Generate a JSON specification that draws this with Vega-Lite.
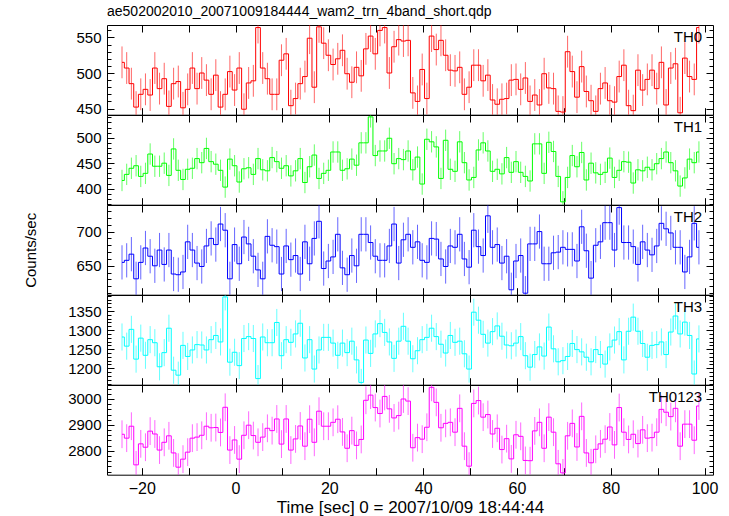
{
"$schema": "https://vega.github.io/schema/vega-lite/v6.json",
"padding": {"left": 23, "top": 4, "right": 0, "bottom": 0},
"background": "white",
"spacing": 0,
"bounds": "flush",
"data": {"values": [
{"t":-24.2,"a":515,"b":416,"c":655,"d":1282,"s":2864,"ea":22.4,"eb":21,"ec":25,"ed":35.5,"es":53.6},
{"t":-23.2,"a":507,"b":428,"c":658,"d":1258,"s":2849,"ea":22.4,"eb":21,"ec":25,"ed":35.5,"es":53.6},
{"t":-22.2,"a":485,"b":440,"c":667,"d":1302,"s":2895,"ea":22.4,"eb":21,"ec":25,"ed":35.5,"es":53.6},
{"t":-21.2,"a":452,"b":445,"c":631,"d":1224,"s":2746,"ea":22.4,"eb":21,"ec":25,"ed":35.5,"es":53.6},
{"t":-20.2,"a":470,"b":424,"c":655,"d":1279,"s":2827,"ea":22.4,"eb":21,"ec":25,"ed":35.5,"es":53.6},
{"t":-19.2,"a":477,"b":430,"c":676,"d":1234,"s":2814,"ea":22.4,"eb":21,"ec":25,"ed":35.5,"es":53.6},
{"t":-18.2,"a":469,"b":468,"c":664,"d":1275,"s":2876,"ea":22.4,"eb":21,"ec":25,"ed":35.5,"es":53.6},
{"t":-17.2,"a":507,"b":444,"c":650,"d":1267,"s":2865,"ea":22.4,"eb":21,"ec":25,"ed":35.5,"es":53.6},
{"t":-16.2,"a":478,"b":444,"c":673,"d":1204,"s":2803,"ea":22.4,"eb":21,"ec":25,"ed":35.5,"es":53.6},
{"t":-15.2,"a":492,"b":450,"c":652,"d":1241,"s":2833,"ea":22.4,"eb":21,"ec":25,"ed":35.5,"es":53.6},
{"t":-14.2,"a":453,"b":426,"c":673,"d":1305,"s":2858,"ea":22.4,"eb":21,"ec":25,"ed":35.5,"es":53.6},
{"t":-13.2,"a":485,"b":478,"c":638,"d":1195,"s":2792,"ea":22.4,"eb":21,"ec":25,"ed":35.5,"es":53.6},
{"t":-12.2,"a":488,"b":436,"c":637,"d":1182,"s":2737,"ea":22.4,"eb":21,"ec":25,"ed":35.5,"es":53.6},
{"t":-11.2,"a":451,"b":418,"c":641,"d":1260,"s":2768,"ea":22.4,"eb":21,"ec":25,"ed":35.5,"es":53.6},
{"t":-10.2,"a":477,"b":438,"c":685,"d":1231,"s":2795,"ea":22.4,"eb":21,"ec":25,"ed":35.5,"es":53.6},
{"t":-9.2,"a":507,"b":440,"c":673,"d":1248,"s":2849,"ea":22.4,"eb":21,"ec":25,"ed":35.5,"es":53.6},
{"t":-8.2,"a":478,"b":459,"c":654,"d":1262,"s":2853,"ea":22.4,"eb":21,"ec":25,"ed":35.5,"es":53.6},
{"t":-7.2,"a":500,"b":451,"c":649,"d":1261,"s":2860,"ea":22.4,"eb":21,"ec":25,"ed":35.5,"es":53.6},
{"t":-6.2,"a":490,"b":479,"c":679,"d":1248,"s":2895,"ea":22.4,"eb":21,"ec":25,"ed":35.5,"es":53.6},
{"t":-5.2,"a":470,"b":453,"c":690,"d":1275,"s":2889,"ea":22.4,"eb":21,"ec":25,"ed":35.5,"es":53.6},
{"t":-4.2,"a":497,"b":448,"c":681,"d":1286,"s":2890,"ea":22.4,"eb":21,"ec":25,"ed":35.5,"es":53.6},
{"t":-3.2,"a":452,"b":436,"c":711,"d":1269,"s":2871,"ea":22.4,"eb":21,"ec":25,"ed":35.5,"es":53.6},
{"t":-2.2,"a":470,"b":403,"c":702,"d":1387,"s":2968,"ea":22.4,"eb":21,"ec":25,"ed":35.5,"es":53.6},
{"t":-1.2,"a":502,"b":458,"c":631,"d":1216,"s":2803,"ea":22.4,"eb":21,"ec":25,"ed":35.5,"es":53.6},
{"t":-0.2,"a":476,"b":445,"c":681,"d":1242,"s":2842,"ea":22.4,"eb":21,"ec":25,"ed":35.5,"es":53.6},
{"t":0.8,"a":507,"b":413,"c":653,"d":1207,"s":2768,"ea":22.4,"eb":21,"ec":25,"ed":35.5,"es":53.6},
{"t":1.8,"a":449,"b":439,"c":692,"d":1278,"s":2860,"ea":22.4,"eb":21,"ec":25,"ed":35.5,"es":53.6},
{"t":2.8,"a":486,"b":441,"c":682,"d":1283,"s":2899,"ea":22.4,"eb":21,"ec":25,"ed":35.5,"es":53.6},
{"t":3.8,"a":489,"b":428,"c":664,"d":1278,"s":2859,"ea":22.4,"eb":21,"ec":25,"ed":35.5,"es":53.6},
{"t":4.8,"a":564,"b":459,"c":644,"d":1173,"s":2833,"ea":22.4,"eb":21,"ec":25,"ed":35.5,"es":53.6},
{"t":5.8,"a":507,"b":437,"c":631,"d":1282,"s":2853,"ea":22.4,"eb":21,"ec":25,"ed":35.5,"es":53.6},
{"t":6.8,"a":492,"b":435,"c":693,"d":1267,"s":2887,"ea":22.4,"eb":21,"ec":25,"ed":35.5,"es":53.6},
{"t":7.8,"a":470,"b":461,"c":680,"d":1267,"s":2878,"ea":22.4,"eb":21,"ec":25,"ed":35.5,"es":53.6},
{"t":8.8,"a":470,"b":453,"c":678,"d":1320,"s":2923,"ea":22.4,"eb":21,"ec":25,"ed":35.5,"es":53.6},
{"t":9.8,"a":518,"b":440,"c":638,"d":1233,"s":2826,"ea":22.4,"eb":21,"ec":25,"ed":35.5,"es":53.6},
{"t":10.8,"a":527,"b":445,"c":679,"d":1275,"s":2923,"ea":22.4,"eb":21,"ec":25,"ed":35.5,"es":53.6},
{"t":11.8,"a":454,"b":425,"c":659,"d":1268,"s":2803,"ea":22.4,"eb":21,"ec":25,"ed":35.5,"es":53.6},
{"t":12.8,"a":464,"b":435,"c":665,"d":1290,"s":2846,"ea":22.4,"eb":21,"ec":25,"ed":35.5,"es":53.6},
{"t":13.8,"a":485,"b":459,"c":638,"d":1318,"s":2896,"ea":22.4,"eb":21,"ec":25,"ed":35.5,"es":53.6},
{"t":14.8,"a":495,"b":412,"c":685,"d":1227,"s":2818,"ea":22.4,"eb":21,"ec":25,"ed":35.5,"es":53.6},
{"t":15.8,"a":549,"b":443,"c":653,"d":1275,"s":2922,"ea":22.4,"eb":21,"ec":25,"ed":35.5,"es":53.6},
{"t":16.8,"a":480,"b":466,"c":690,"d":1198,"s":2833,"ea":22.4,"eb":21,"ec":25,"ed":35.5,"es":53.6},
{"t":17.8,"a":565,"b":420,"c":715,"d":1248,"s":2953,"ea":22.4,"eb":21,"ec":25,"ed":35.5,"es":53.6},
{"t":18.8,"a":542,"b":430,"c":646,"d":1281,"s":2895,"ea":22.4,"eb":21,"ec":25,"ed":35.5,"es":53.6},
{"t":19.8,"a":525,"b":436,"c":657,"d":1281,"s":2895,"ea":22.4,"eb":21,"ec":25,"ed":35.5,"es":53.6},
{"t":20.8,"a":512,"b":472,"c":663,"d":1266,"s":2910,"ea":22.4,"eb":21,"ec":25,"ed":35.5,"es":53.6},
{"t":21.8,"a":520,"b":472,"c":696,"d":1234,"s":2922,"ea":22.4,"eb":21,"ec":25,"ed":35.5,"es":53.6},
{"t":22.8,"a":532,"b":436,"c":647,"d":1266,"s":2873,"ea":22.4,"eb":21,"ec":25,"ed":35.5,"es":53.6},
{"t":23.8,"a":499,"b":439,"c":637,"d":1241,"s":2810,"ea":22.4,"eb":21,"ec":25,"ed":35.5,"es":53.6},
{"t":24.8,"a":487,"b":458,"c":665,"d":1271,"s":2878,"ea":22.4,"eb":21,"ec":25,"ed":35.5,"es":53.6},
{"t":25.8,"a":508,"b":446,"c":650,"d":1222,"s":2821,"ea":22.4,"eb":21,"ec":25,"ed":35.5,"es":53.6},
{"t":26.8,"a":496,"b":490,"c":696,"d":1163,"s":2844,"ea":22.4,"eb":21,"ec":25,"ed":35.5,"es":53.6},
{"t":27.8,"a":534,"b":490,"c":696,"d":1274,"s":2995,"ea":22.4,"eb":21,"ec":25,"ed":35.5,"es":53.6},
{"t":28.8,"a":552,"b":541,"c":684,"d":1239,"s":3015,"ea":22.4,"eb":21,"ec":25,"ed":35.5,"es":53.6},
{"t":29.8,"a":527,"b":465,"c":664,"d":1290,"s":2967,"ea":22.4,"eb":21,"ec":25,"ed":35.5,"es":53.6},
{"t":30.8,"a":560,"b":474,"c":658,"d":1317,"s":2944,"ea":22.4,"eb":21,"ec":25,"ed":35.5,"es":53.6},
{"t":31.8,"a":564,"b":474,"c":658,"d":1294,"s":3010,"ea":22.4,"eb":21,"ec":25,"ed":35.5,"es":53.6},
{"t":32.8,"a":500,"b":499,"c":679,"d":1269,"s":2962,"ea":22.4,"eb":21,"ec":25,"ed":35.5,"es":53.6},
{"t":33.8,"a":537,"b":449,"c":711,"d":1226,"s":2927,"ea":22.4,"eb":21,"ec":25,"ed":35.5,"es":53.6},
{"t":34.8,"a":547,"b":459,"c":654,"d":1271,"s":2936,"ea":22.4,"eb":21,"ec":25,"ed":35.5,"es":53.6},
{"t":35.8,"a":545,"b":457,"c":688,"d":1310,"s":3000,"ea":22.4,"eb":21,"ec":25,"ed":35.5,"es":53.6},
{"t":36.8,"a":546,"b":474,"c":696,"d":1271,"s":2992,"ea":22.4,"eb":21,"ec":25,"ed":35.5,"es":53.6},
{"t":37.8,"a":472,"b":437,"c":677,"d":1225,"s":2812,"ea":22.4,"eb":21,"ec":25,"ed":35.5,"es":53.6},
{"t":38.8,"a":460,"b":462,"c":685,"d":1246,"s":2851,"ea":22.4,"eb":21,"ec":25,"ed":35.5,"es":53.6},
{"t":39.8,"a":505,"b":409,"c":658,"d":1275,"s":2845,"ea":22.4,"eb":21,"ec":25,"ed":35.5,"es":53.6},
{"t":40.8,"a":464,"b":497,"c":655,"d":1281,"s":2891,"ea":22.4,"eb":21,"ec":25,"ed":35.5,"es":53.6},
{"t":41.8,"a":552,"b":492,"c":690,"d":1305,"s":3045,"ea":22.4,"eb":21,"ec":25,"ed":35.5,"es":53.6},
{"t":42.8,"a":533,"b":482,"c":689,"d":1283,"s":2987,"ea":22.4,"eb":21,"ec":25,"ed":35.5,"es":53.6},
{"t":43.8,"a":546,"b":420,"c":660,"d":1263,"s":2889,"ea":22.4,"eb":21,"ec":25,"ed":35.5,"es":53.6},
{"t":44.8,"a":525,"b":495,"c":649,"d":1240,"s":2906,"ea":22.4,"eb":21,"ec":25,"ed":35.5,"es":53.6},
{"t":45.8,"a":504,"b":438,"c":679,"d":1286,"s":2910,"ea":22.4,"eb":21,"ec":25,"ed":35.5,"es":53.6},
{"t":46.8,"a":503,"b":434,"c":677,"d":1268,"s":2872,"ea":22.4,"eb":21,"ec":25,"ed":35.5,"es":53.6},
{"t":47.8,"a":508,"b":492,"c":696,"d":1271,"s":2964,"ea":22.4,"eb":21,"ec":25,"ed":35.5,"es":53.6},
{"t":48.8,"a":470,"b":451,"c":660,"d":1238,"s":2818,"ea":22.4,"eb":21,"ec":25,"ed":35.5,"es":53.6},
{"t":49.8,"a":480,"b":417,"c":648,"d":1198,"s":2741,"ea":22.4,"eb":21,"ec":25,"ed":35.5,"es":53.6},
{"t":50.8,"a":511,"b":422,"c":702,"d":1347,"s":2983,"ea":22.4,"eb":21,"ec":25,"ed":35.5,"es":53.6},
{"t":51.8,"a":511,"b":476,"c":678,"d":1326,"s":2994,"ea":22.4,"eb":21,"ec":25,"ed":35.5,"es":53.6},
{"t":52.8,"a":489,"b":490,"c":665,"d":1289,"s":2930,"ea":22.4,"eb":21,"ec":25,"ed":35.5,"es":53.6},
{"t":53.8,"a":497,"b":474,"c":723,"d":1266,"s":2940,"ea":22.4,"eb":21,"ec":25,"ed":35.5,"es":53.6},
{"t":54.8,"a":462,"b":434,"c":677,"d":1296,"s":2865,"ea":22.4,"eb":21,"ec":25,"ed":35.5,"es":53.6},
{"t":55.8,"a":456,"b":438,"c":681,"d":1311,"s":2887,"ea":22.4,"eb":21,"ec":25,"ed":35.5,"es":53.6},
{"t":56.8,"a":463,"b":429,"c":654,"d":1284,"s":2805,"ea":22.4,"eb":21,"ec":25,"ed":35.5,"es":53.6},
{"t":57.8,"a":464,"b":461,"c":664,"d":1261,"s":2847,"ea":22.4,"eb":21,"ec":25,"ed":35.5,"es":53.6},
{"t":58.8,"a":490,"b":432,"c":615,"d":1259,"s":2769,"ea":22.4,"eb":21,"ec":25,"ed":35.5,"es":53.6},
{"t":59.8,"a":491,"b":453,"c":657,"d":1266,"s":2862,"ea":22.4,"eb":21,"ec":25,"ed":35.5,"es":53.6},
{"t":60.8,"a":477,"b":432,"c":665,"d":1283,"s":2856,"ea":22.4,"eb":21,"ec":25,"ed":35.5,"es":53.6},
{"t":61.8,"a":493,"b":424,"c":610,"d":1233,"s":2763,"ea":22.4,"eb":21,"ec":25,"ed":35.5,"es":53.6},
{"t":62.8,"a":460,"b":415,"c":682,"d":1203,"s":2762,"ea":22.4,"eb":21,"ec":25,"ed":35.5,"es":53.6},
{"t":63.8,"a":469,"b":488,"c":682,"d":1236,"s":2877,"ea":22.4,"eb":21,"ec":25,"ed":35.5,"es":53.6},
{"t":64.8,"a":455,"b":488,"c":700,"d":1256,"s":2910,"ea":22.4,"eb":21,"ec":25,"ed":35.5,"es":53.6},
{"t":65.8,"a":499,"b":430,"c":653,"d":1232,"s":2810,"ea":22.4,"eb":21,"ec":25,"ed":35.5,"es":53.6},
{"t":66.8,"a":479,"b":491,"c":653,"d":1308,"s":2930,"ea":22.4,"eb":21,"ec":25,"ed":35.5,"es":53.6},
{"t":67.8,"a":478,"b":473,"c":669,"d":1251,"s":2872,"ea":22.4,"eb":21,"ec":25,"ed":35.5,"es":53.6},
{"t":68.8,"a":446,"b":424,"c":670,"d":1217,"s":2750,"ea":22.4,"eb":21,"ec":25,"ed":35.5,"es":53.6},
{"t":69.8,"a":445,"b":374,"c":677,"d":1220,"s":2715,"ea":22.4,"eb":21,"ec":25,"ed":35.5,"es":53.6},
{"t":70.8,"a":530,"b":422,"c":674,"d":1231,"s":2858,"ea":22.4,"eb":21,"ec":25,"ed":35.5,"es":53.6},
{"t":71.8,"a":502,"b":465,"c":674,"d":1265,"s":2906,"ea":22.4,"eb":21,"ec":25,"ed":35.5,"es":53.6},
{"t":72.8,"a":466,"b":443,"c":657,"d":1249,"s":2815,"ea":22.4,"eb":21,"ec":25,"ed":35.5,"es":53.6},
{"t":73.8,"a":509,"b":471,"c":707,"d":1243,"s":2933,"ea":22.4,"eb":21,"ec":25,"ed":35.5,"es":53.6},
{"t":74.8,"a":474,"b":417,"c":672,"d":1229,"s":2792,"ea":22.4,"eb":21,"ec":25,"ed":35.5,"es":53.6},
{"t":75.8,"a":461,"b":450,"c":632,"d":1217,"s":2754,"ea":22.4,"eb":21,"ec":25,"ed":35.5,"es":53.6},
{"t":76.8,"a":446,"b":431,"c":680,"d":1249,"s":2806,"ea":22.4,"eb":21,"ec":25,"ed":35.5,"es":53.6},
{"t":77.8,"a":478,"b":428,"c":685,"d":1236,"s":2827,"ea":22.4,"eb":21,"ec":25,"ed":35.5,"es":53.6},
{"t":78.8,"a":486,"b":432,"c":713,"d":1211,"s":2845,"ea":22.4,"eb":21,"ec":25,"ed":35.5,"es":53.6},
{"t":79.8,"a":461,"b":460,"c":713,"d":1256,"s":2892,"ea":22.4,"eb":21,"ec":25,"ed":35.5,"es":53.6},
{"t":80.8,"a":459,"b":422,"c":673,"d":1274,"s":2823,"ea":22.4,"eb":21,"ec":25,"ed":35.5,"es":53.6},
{"t":81.8,"a":495,"b":436,"c":735,"d":1296,"s":2967,"ea":22.4,"eb":21,"ec":25,"ed":35.5,"es":53.6},
{"t":82.8,"a":511,"b":453,"c":684,"d":1222,"s":2872,"ea":22.4,"eb":21,"ec":25,"ed":35.5,"es":53.6},
{"t":83.8,"a":454,"b":452,"c":684,"d":1297,"s":2844,"ea":22.4,"eb":21,"ec":25,"ed":35.5,"es":53.6},
{"t":84.8,"a":447,"b":411,"c":678,"d":1334,"s":2864,"ea":22.4,"eb":21,"ec":25,"ed":35.5,"es":53.6},
{"t":85.8,"a":504,"b":437,"c":652,"d":1297,"s":2828,"ea":22.4,"eb":21,"ec":25,"ed":35.5,"es":53.6},
{"t":86.8,"a":476,"b":435,"c":685,"d":1265,"s":2881,"ea":22.4,"eb":21,"ec":25,"ed":35.5,"es":53.6},
{"t":87.8,"a":491,"b":442,"c":673,"d":1229,"s":2849,"ea":22.4,"eb":21,"ec":25,"ed":35.5,"es":53.6},
{"t":88.8,"a":504,"b":437,"c":666,"d":1260,"s":2851,"ea":22.4,"eb":21,"ec":25,"ed":35.5,"es":53.6},
{"t":89.8,"a":478,"b":449,"c":679,"d":1262,"s":2872,"ea":22.4,"eb":21,"ec":25,"ed":35.5,"es":53.6},
{"t":90.8,"a":515,"b":459,"c":712,"d":1269,"s":2960,"ea":22.4,"eb":21,"ec":25,"ed":35.5,"es":53.6},
{"t":91.8,"a":455,"b":472,"c":704,"d":1236,"s":2949,"ea":22.4,"eb":21,"ec":25,"ed":35.5,"es":53.6},
{"t":92.8,"a":507,"b":451,"c":698,"d":1295,"s":2932,"ea":22.4,"eb":21,"ec":25,"ed":35.5,"es":53.6},
{"t":93.8,"a":513,"b":435,"c":677,"d":1337,"s":2964,"ea":22.4,"eb":21,"ec":25,"ed":35.5,"es":53.6},
{"t":94.8,"a":444,"b":405,"c":677,"d":1290,"s":2818,"ea":22.4,"eb":21,"ec":25,"ed":35.5,"es":53.6},
{"t":95.8,"a":521,"b":421,"c":641,"d":1321,"s":2903,"ea":22.4,"eb":21,"ec":25,"ed":35.5,"es":53.6},
{"t":96.8,"a":495,"b":458,"c":663,"d":1286,"s":2903,"ea":22.4,"eb":21,"ec":25,"ed":35.5,"es":53.6},
{"t":97.8,"a":491,"b":451,"c":712,"d":1185,"s":2841,"ea":22.4,"eb":21,"ec":25,"ed":35.5,"es":53.6},
{"t":98.8,"a":564,"b":472,"c":677,"d":1277,"s":2973,"ea":22.4,"eb":21,"ec":25,"ed":35.5,"es":53.6}
]},
"vconcat": [
{
 "title": {"text": "ae502002010_20071009184444_wam2_trn_4band_short.qdp", "anchor": "start", "frame": "group", "offset": 6},
 "width": 606, "height": 89.7,
 "layer": [
  {"mark": {"type": "errorbar", "color": "#ff0000", "thickness": 1, "opacity": 0.6, "clip": true},
   "encoding": {
    "x": {"field": "t", "type": "quantitative", "scale": {"domain": [-27.4, 101.8], "nice": false, "zero": false}, "axis": {"orient": "bottom", "values": [-20,-10,0,10,20,30,40,50,60,70,80,90,100], "tickSize": -7, "labels": false, "title": null}},
    "y": {"field": "a", "type": "quantitative", "scale": {"domain": [441.3, 567.6], "nice": false, "zero": false}, "axis": {"orient": "left", "values": [450,500,550], "format": "d", "tickSize": -7, "labelPadding": 13, "title": null}},
    "yError": {"field": "ea"}}},
  {"mark": {"type": "line", "interpolate": "step", "color": "#ff0000", "strokeWidth": 1, "clip": true},
   "encoding": {
    "x": {"field": "t", "type": "quantitative", "axis": {"orient": "top", "values": [-20,-10,0,10,20,30,40,50,60,70,80,90,100], "tickSize": -7, "labels": false, "title": null}},
    "y": {"field": "a", "type": "quantitative", "axis": {"orient": "left", "values": [450,460,470,480,490,500,510,520,530,540,550,560], "tickSize": -4, "labels": false, "title": null}}}},
  {"mark": {"type": "point", "size": 1, "opacity": 0, "clip": true},
   "encoding": {
    "x": {"field": "t", "type": "quantitative", "axis": null},
    "y": {"field": "a", "type": "quantitative", "axis": {"orient": "right", "values": [450,460,470,480,490,500,510,520,530,540,550,560], "tickSize": -4, "labels": false, "title": null}}}},
  {"data": {"values": [{"lab": "TH0"}]},
   "mark": {"type": "text", "align": "right", "baseline": "top", "fontSize": 15, "dy": 5},
   "encoding": {
    "text": {"field": "lab"},
    "x": {"datum": 99.5, "type": "quantitative", "axis": null},
    "y": {"datum": 567.6, "type": "quantitative", "axis": {"orient": "right", "values": [450,500,550], "tickSize": -7, "labels": false, "title": null}}}}
 ],
 "resolve": {"axis": {"x": "independent", "y": "independent"}}
},
{
 "width": 606, "height": 89.7,
 "layer": [
  {"mark": {"type": "errorbar", "color": "#00ff00", "thickness": 1, "opacity": 0.6, "clip": true},
   "encoding": {
    "x": {"field": "t", "type": "quantitative", "scale": {"domain": [-27.4, 101.8], "nice": false, "zero": false}, "axis": {"orient": "bottom", "values": [-20,-10,0,10,20,30,40,50,60,70,80,90,100], "tickSize": -7, "labels": false, "title": null}},
    "y": {"field": "b", "type": "quantitative", "scale": {"domain": [368.4, 544.7], "nice": false, "zero": false}, "axis": {"orient": "left", "values": [400,450,500], "format": "d", "tickSize": -7, "labelPadding": 13, "title": null}},
    "yError": {"field": "eb"}}},
  {"mark": {"type": "line", "interpolate": "step", "color": "#00ff00", "strokeWidth": 1, "clip": true},
   "encoding": {
    "x": {"field": "t", "type": "quantitative", "axis": {"orient": "top", "values": [-20,-10,0,10,20,30,40,50,60,70,80,90,100], "tickSize": -7, "labels": false, "title": null}},
    "y": {"field": "b", "type": "quantitative", "axis": {"orient": "left", "values": [370,380,390,400,410,420,430,440,450,460,470,480,490,500,510,520,530,540], "tickSize": -4, "labels": false, "title": null}}}},
  {"mark": {"type": "point", "size": 1, "opacity": 0, "clip": true},
   "encoding": {
    "x": {"field": "t", "type": "quantitative", "axis": null},
    "y": {"field": "b", "type": "quantitative", "axis": {"orient": "right", "values": [370,380,390,400,410,420,430,440,450,460,470,480,490,500,510,520,530,540], "tickSize": -4, "labels": false, "title": null}}}},
  {"data": {"values": [{"lab": "TH1"}]},
   "mark": {"type": "text", "align": "right", "baseline": "top", "fontSize": 15, "dy": 5},
   "encoding": {
    "text": {"field": "lab"},
    "x": {"datum": 99.5, "type": "quantitative", "axis": null},
    "y": {"datum": 544.7, "type": "quantitative", "axis": {"orient": "right", "values": [400,450,500], "tickSize": -7, "labels": false, "title": null}}}}
 ],
 "resolve": {"axis": {"x": "independent", "y": "independent"}}
},
{
 "width": 606, "height": 89.7,
 "layer": [
  {"mark": {"type": "errorbar", "color": "#0000ff", "thickness": 1, "opacity": 0.6, "clip": true},
   "encoding": {
    "x": {"field": "t", "type": "quantitative", "scale": {"domain": [-27.4, 101.8], "nice": false, "zero": false}, "axis": {"orient": "bottom", "values": [-20,-10,0,10,20,30,40,50,60,70,80,90,100], "tickSize": -7, "labels": false, "title": null}},
    "y": {"field": "c", "type": "quantitative", "scale": {"domain": [607.8, 738.8], "nice": false, "zero": false}, "axis": {"orient": "left", "values": [650,700], "format": "d", "tickSize": -7, "labelPadding": 13, "title": "Counts/sec", "titlePadding": 37}},
    "yError": {"field": "ec"}}},
  {"mark": {"type": "line", "interpolate": "step", "color": "#0000ff", "strokeWidth": 1, "clip": true},
   "encoding": {
    "x": {"field": "t", "type": "quantitative", "axis": {"orient": "top", "values": [-20,-10,0,10,20,30,40,50,60,70,80,90,100], "tickSize": -7, "labels": false, "title": null}},
    "y": {"field": "c", "type": "quantitative", "axis": {"orient": "left", "values": [610,620,630,640,650,660,670,680,690,700,710,720,730], "tickSize": -4, "labels": false, "title": null}}}},
  {"mark": {"type": "point", "size": 1, "opacity": 0, "clip": true},
   "encoding": {
    "x": {"field": "t", "type": "quantitative", "axis": null},
    "y": {"field": "c", "type": "quantitative", "axis": {"orient": "right", "values": [610,620,630,640,650,660,670,680,690,700,710,720,730], "tickSize": -4, "labels": false, "title": null}}}},
  {"data": {"values": [{"lab": "TH2"}]},
   "mark": {"type": "text", "align": "right", "baseline": "top", "fontSize": 15, "dy": 5},
   "encoding": {
    "text": {"field": "lab"},
    "x": {"datum": 99.5, "type": "quantitative", "axis": null},
    "y": {"datum": 738.8, "type": "quantitative", "axis": {"orient": "right", "values": [650,700], "tickSize": -7, "labels": false, "title": null}}}}
 ],
 "resolve": {"axis": {"x": "independent", "y": "independent"}}
},
{
 "width": 606, "height": 89.7,
 "layer": [
  {"mark": {"type": "errorbar", "color": "#00ffff", "thickness": 1, "opacity": 0.6, "clip": true},
   "encoding": {
    "x": {"field": "t", "type": "quantitative", "scale": {"domain": [-27.4, 101.8], "nice": false, "zero": false}, "axis": {"orient": "bottom", "values": [-20,-10,0,10,20,30,40,50,60,70,80,90,100], "tickSize": -7, "labels": false, "title": null}},
    "y": {"field": "d", "type": "quantitative", "scale": {"domain": [1157, 1392], "nice": false, "zero": false}, "axis": {"orient": "left", "values": [1200,1250,1300,1350], "format": "d", "tickSize": -7, "labelPadding": 13, "title": null}},
    "yError": {"field": "ed"}}},
  {"mark": {"type": "line", "interpolate": "step", "color": "#00ffff", "strokeWidth": 1, "clip": true},
   "encoding": {
    "x": {"field": "t", "type": "quantitative", "axis": {"orient": "top", "values": [-20,-10,0,10,20,30,40,50,60,70,80,90,100], "tickSize": -7, "labels": false, "title": null}},
    "y": {"field": "d", "type": "quantitative", "axis": {"orient": "left", "values": [1160,1170,1180,1190,1200,1210,1220,1230,1240,1250,1260,1270,1280,1290,1300,1310,1320,1330,1340,1350,1360,1370,1380,1390], "tickSize": -4, "labels": false, "title": null}}}},
  {"mark": {"type": "point", "size": 1, "opacity": 0, "clip": true},
   "encoding": {
    "x": {"field": "t", "type": "quantitative", "axis": null},
    "y": {"field": "d", "type": "quantitative", "axis": {"orient": "right", "values": [1160,1170,1180,1190,1200,1210,1220,1230,1240,1250,1260,1270,1280,1290,1300,1310,1320,1330,1340,1350,1360,1370,1380,1390], "tickSize": -4, "labels": false, "title": null}}}},
  {"data": {"values": [{"lab": "TH3"}]},
   "mark": {"type": "text", "align": "right", "baseline": "top", "fontSize": 15, "dy": 5},
   "encoding": {
    "text": {"field": "lab"},
    "x": {"datum": 99.5, "type": "quantitative", "axis": null},
    "y": {"datum": 1392, "type": "quantitative", "axis": {"orient": "right", "values": [1200,1250,1300,1350], "tickSize": -7, "labels": false, "title": null}}}}
 ],
 "resolve": {"axis": {"x": "independent", "y": "independent"}}
},
{
 "width": 606, "height": 89.7,
 "layer": [
  {"mark": {"type": "errorbar", "color": "#ff00ff", "thickness": 1, "opacity": 0.6, "clip": true},
   "encoding": {
    "x": {"field": "t", "type": "quantitative", "scale": {"domain": [-27.4, 101.8], "nice": false, "zero": false}, "axis": {"orient": "bottom", "values": [-20,-10,0,10,20,30,40,50,60,70,80,90,100], "tickSize": -7, "labelPadding": 13, "labelFontSize": 16, "labelExpr": "datum.value % 20 === 0 ? datum.label : ''", "title": "Time [sec] 0 = 2007/10/09 18:44:44", "titleFontSize": 17, "titlePadding": 3}},
    "y": {"field": "s", "type": "quantitative", "scale": {"domain": [2708, 3054], "nice": false, "zero": false}, "axis": {"orient": "left", "values": [2800,2900,3000], "format": "d", "tickSize": -7, "labelPadding": 13, "title": null}},
    "yError": {"field": "es"}}},
  {"mark": {"type": "line", "interpolate": "step", "color": "#ff00ff", "strokeWidth": 1, "clip": true},
   "encoding": {
    "x": {"field": "t", "type": "quantitative", "axis": {"orient": "top", "values": [-20,-10,0,10,20,30,40,50,60,70,80,90,100], "tickSize": -7, "labels": false, "title": null}},
    "y": {"field": "s", "type": "quantitative", "axis": {"orient": "left", "values": [2720,2740,2760,2780,2800,2820,2840,2860,2880,2900,2920,2940,2960,2980,3000,3020,3040], "tickSize": -4, "labels": false, "title": null}}}},
  {"mark": {"type": "point", "size": 1, "opacity": 0, "clip": true},
   "encoding": {
    "x": {"field": "t", "type": "quantitative", "axis": null},
    "y": {"field": "s", "type": "quantitative", "axis": {"orient": "right", "values": [2720,2740,2760,2780,2800,2820,2840,2860,2880,2900,2920,2940,2960,2980,3000,3020,3040], "tickSize": -4, "labels": false, "title": null}}}},
  {"data": {"values": [{"lab": "TH0123"}]},
   "mark": {"type": "text", "align": "right", "baseline": "top", "fontSize": 15, "dy": 5},
   "encoding": {
    "text": {"field": "lab"},
    "x": {"datum": 99.5, "type": "quantitative", "axis": null},
    "y": {"datum": 3054, "type": "quantitative", "axis": {"orient": "right", "values": [2800,2900,3000], "tickSize": -7, "labels": false, "title": null}}}}
 ],
 "resolve": {"axis": {"x": "independent", "y": "independent"}}
}
],
"config": {
 "font": "Liberation Sans",
 "view": {"stroke": "black", "strokeWidth": 1},
 "axis": {"domain": false, "grid": false, "tickColor": "black", "tickWidth": 1, "labelColor": "black", "labelFontSize": 15, "titleFontSize": 15, "titleFontWeight": "normal", "titleColor": "black", "labelFlush": false, "labelOverlap": false, "labelBound": false, "minExtent": 0},
 "title": {"fontSize": 14, "fontWeight": "normal", "color": "black"},
 "text": {"color": "black"}
}
}
